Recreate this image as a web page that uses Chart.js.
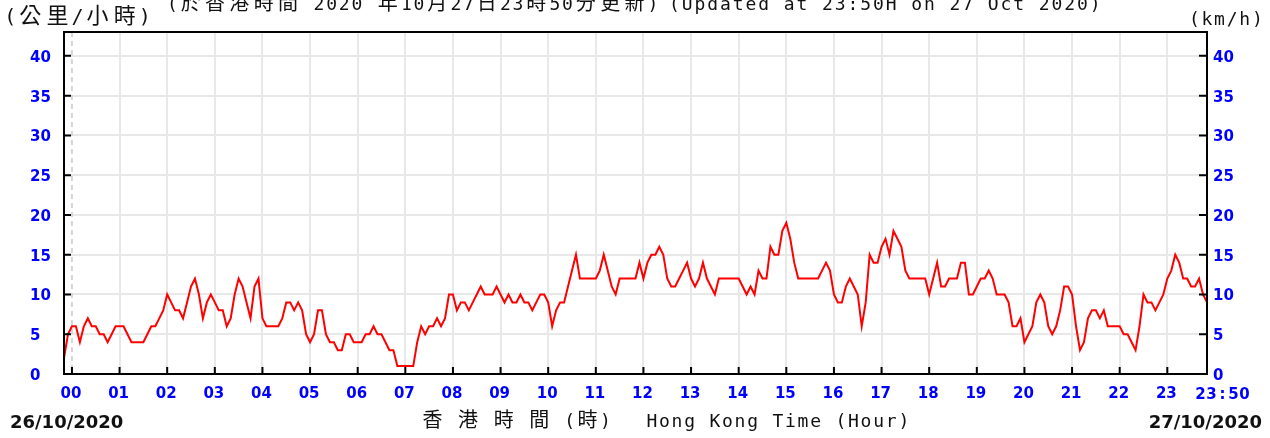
<!DOCTYPE html>
<html>
<head>
<meta charset="utf-8">
<script src="https://cdn.jsdelivr.net/npm/chart.js@4.4.1/dist/chart.umd.min.js"></script>
<style>
  body { margin: 0; background: #fff; }
  #wrap { position: relative; width: 1270px; height: 438px; }
</style>
</head>
<body>
<div id="wrap"><canvas id="windChart" width="1270" height="438"></canvas></div>
<script>
// 5-minute readings, first one at 23:50 on 26/10/2020
const startMinute = -10;
const stepMinutes = 5;
const windSpeed = [
  2, 5, 6, 6, 4, 6, 7, 6, 6, 5,
  5, 4, 5, 6, 6, 6, 5, 4, 4, 4,
  4, 5, 6, 6, 7, 8, 10, 9, 8, 8,
  7, 9, 11, 12, 10, 7, 9, 10, 9, 8,
  8, 6, 7, 10, 12, 11, 9, 7, 11, 12,
  7, 6, 6, 6, 6, 7, 9, 9, 8, 9,
  8, 5, 4, 5, 8, 8, 5, 4, 4, 3,
  3, 5, 5, 4, 4, 4, 5, 5, 6, 5,
  5, 4, 3, 3, 1, 1, 1, 1, 1, 4,
  6, 5, 6, 6, 7, 6, 7, 10, 10, 8,
  9, 9, 8, 9, 10, 11, 10, 10, 10, 11,
  10, 9, 10, 9, 9, 10, 9, 9, 8, 9,
  10, 10, 9, 6, 8, 9, 9, 11, 13, 15,
  12, 12, 12, 12, 12, 13, 15, 13, 11, 10,
  12, 12, 12, 12, 12, 14, 12, 14, 15, 15,
  16, 15, 12, 11, 11, 12, 13, 14, 12, 11,
  12, 14, 12, 11, 10, 12, 12, 12, 12, 12,
  12, 11, 10, 11, 10, 13, 12, 12, 16, 15,
  15, 18, 19, 17, 14, 12, 12, 12, 12, 12,
  12, 13, 14, 13, 10, 9, 9, 11, 12, 11,
  10, 6, 9, 15, 14, 14, 16, 17, 15, 18,
  17, 16, 13, 12, 12, 12, 12, 12, 10, 12,
  14, 11, 11, 12, 12, 12, 14, 14, 10, 10,
  11, 12, 12, 13, 12, 10, 10, 10, 9, 6,
  6, 7, 4, 5, 6, 9, 10, 9, 6, 5,
  6, 8, 11, 11, 10, 6, 3, 4, 7, 8,
  8, 7, 8, 6, 6, 6, 6, 5, 5, 4,
  3, 6, 10, 9, 9, 8, 9, 10, 12, 13,
  15, 14, 12, 12, 11, 11, 12, 10, 9
];

const hourTicks = [0, 60, 120, 180, 240, 300, 360, 420, 480, 540, 600, 660,
  720, 780, 840, 900, 960, 1020, 1080, 1140, 1200, 1260, 1320, 1380];
const hourLabels = ['00', '01', '02', '03', '04', '05', '06', '07', '08', '09', '10', '11',
  '12', '13', '14', '15', '16', '17', '18', '19', '20', '21', '22', '23'];
const endTick = 1430;
const endLabel = '23:50';
const speedTicks = [0, 5, 10, 15, 20, 25, 30, 35, 40];

const tickFont = { family: 'DejaVu Sans', weight: 'bold', size: 15 };
const blue = '#0000ff';

// draw a string in fixed cells: half-width chars use `lat`, CJK chars use `cjk`
function drawCells(ctx, str, x, y, lat, cjk, latFont, cjkFont) {
  ctx.textAlign = 'center';
  ctx.textBaseline = 'alphabetic';
  for (const ch of str) {
    const wide = ch.charCodeAt(0) > 0x2e80;
    const w = wide ? cjk : lat;
    ctx.font = wide ? cjkFont : latFont;
    if (ch !== ' ') ctx.fillText(ch, x + w / 2, y);
    x += w;
  }
}

const frameAndLabels = {
  id: 'frameAndLabels',
  beforeDatasetsDraw(chart) {
    const { ctx, chartArea: a, scales: { x } } = chart;
    const px = x.getPixelForValue(0);
    ctx.save();
    ctx.strokeStyle = '#d6d6d6';
    ctx.lineWidth = 2;
    ctx.setLineDash([5, 4]);
    ctx.beginPath();
    ctx.moveTo(px, a.top);
    ctx.lineTo(px, a.bottom);
    ctx.stroke();
    ctx.restore();
  },
  afterDraw(chart) {
    const { ctx, chartArea: a, scales: { x, y } } = chart;
    ctx.save();
    ctx.strokeStyle = '#000';
    ctx.lineWidth = 2;
    ctx.beginPath();
    hourTicks.forEach(v => {
      const px = x.getPixelForValue(v);
      ctx.moveTo(px, a.bottom);
      ctx.lineTo(px, a.bottom - 7);
    });
    speedTicks.forEach(v => {
      const py = y.getPixelForValue(v);
      ctx.moveTo(a.left, py);
      ctx.lineTo(a.left + 7, py);
      ctx.moveTo(a.right, py);
      ctx.lineTo(a.right - 8, py);
    });
    ctx.stroke();
    ctx.strokeRect(a.left, a.top, a.right - a.left, a.bottom - a.top);

    // end label of the time axis
    ctx.fillStyle = blue;
    const ex = x.getPixelForValue(endTick);
    drawCells(ctx, endLabel, ex - 12, a.bottom + 25, 11, 11, 'bold 15px "DejaVu Sans"', 'bold 15px "DejaVu Sans"');

    ctx.fillStyle = '#111';
    const mono = '18px "DejaVu Sans Mono"';
    const cjk = '20px "Noto Sans CJK TC"';
    drawCells(ctx, '(公里/小時)', 4, 23, 12.6, 27.3, '20px "DejaVu Sans Mono"', '22px "Noto Sans CJK TC"');
    drawCells(ctx, '(於香港時間 2020 年10月27日23時50分更新)', 166, 10, 12.6, 24.3, mono, cjk);
    drawCells(ctx, '(Updated at 23:50H on 27 Oct 2020)', 668, 10, 12.75, 12.75, mono, cjk);
    drawCells(ctx, '(km/h)', 1188, 24.5, 12.6, 12.6, mono, cjk);
    drawCells(ctx, '香 港 時 間 (時)', 421, 427, 12.6, 23, mono, cjk);
    drawCells(ctx, 'Hong Kong Time (Hour)', 645.5, 427, 12.6, 12.6, mono, cjk);

    ctx.font = 'bold 18px "DejaVu Sans"';
    ctx.textBaseline = 'alphabetic';
    ctx.textAlign = 'left';
    ctx.fillText('26/10/2020', 10, 428);
    ctx.textAlign = 'right';
    ctx.fillText('27/10/2020', 1262, 428);
    ctx.restore();
  }
};

const ctx = document.getElementById('windChart').getContext('2d');

const windChart = new Chart(ctx, {
  type: 'line',
  data: {
    datasets: [{
      data: windSpeed.map((v, i) => ({ x: startMinute + i * stepMinutes, y: v })),
      borderColor: '#ff0000',
      borderWidth: 2,
      pointRadius: 0,
      tension: 0,
      fill: false
    }]
  },
  options: {
    responsive: false,
    animation: false,
    events: [],
    layout: { padding: { left: 30, right: 20, top: 32, bottom: 34 } },
    plugins: {
      legend: { display: false },
      tooltip: { enabled: false }
    },
    scales: {
      x: {
        type: 'linear',
        min: startMinute,
        max: endTick,
        afterBuildTicks: s => { s.ticks = hourTicks.map(v => ({ value: v })); },
        afterFit: s => { s.height = 30; },
        ticks: {
          callback: v => hourLabels[hourTicks.indexOf(v)],
          color: blue,
          font: tickFont,
          padding: 11,
          labelOffset: -1,
          maxRotation: 0,
          autoSkip: false
        },
        grid: {
          color: c => (c.tick && c.tick.value === 0) ? 'rgba(0,0,0,0)' : '#e8e8e8',
          lineWidth: 2,
          drawTicks: false
        },
        border: { display: false }
      },
      y: {
        position: 'left',
        min: 0,
        max: 43,
        afterBuildTicks: s => { s.ticks = speedTicks.map(v => ({ value: v })); },
        afterFit: s => { s.width = 34; },
        ticks: { color: blue, font: tickFont, crossAlign: 'far', padding: 6, labelOffset: 2 },
        grid: { color: '#e8e8e8', lineWidth: 2, drawTicks: false },
        border: { display: false }
      },
      y2: {
        position: 'right',
        min: 0,
        max: 43,
        afterBuildTicks: s => { s.ticks = speedTicks.map(v => ({ value: v })); },
        afterFit: s => { s.width = 43; },
        ticks: { color: blue, font: tickFont, padding: 6, labelOffset: 2 },
        grid: { display: false, drawTicks: false },
        border: { display: false }
      }
    }
  },
  plugins: [frameAndLabels]
});
</script>
</body>
</html>
